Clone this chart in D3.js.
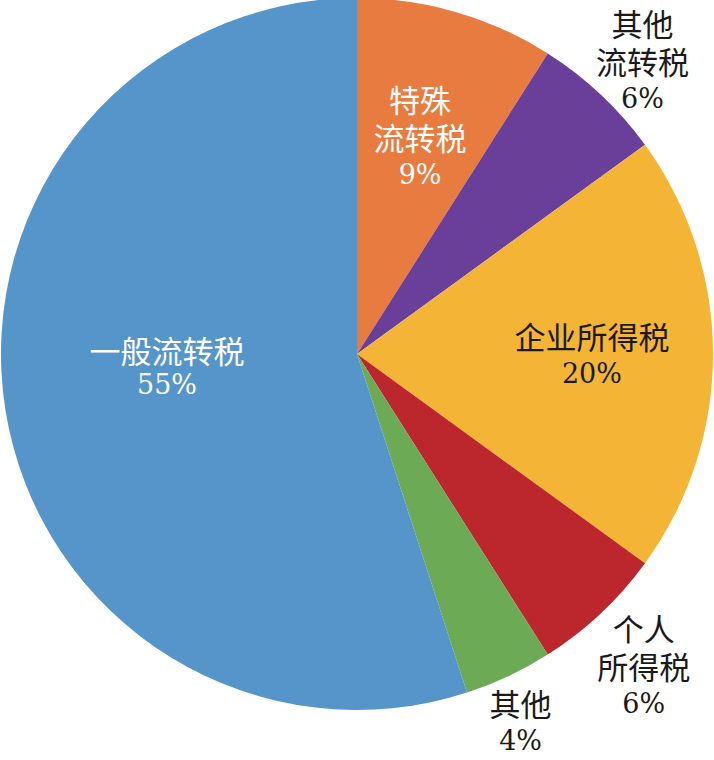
<!DOCTYPE html>
<html>
<head>
<meta charset="utf-8">
<script src="https://cdn.jsdelivr.net/npm/d3@7/dist/d3.min.js"></script>
<style>
  html, body { margin: 0; padding: 0; background: #fff; }
  svg { display: block; }
  .pct { font-family: "DejaVu Serif", serif; font-size: 27px; }
  .cjk { font-family: "Noto Sans CJK SC", sans-serif; font-size: 31px; }
</style>
</head>
<body>
<div id="chart"></div>
<script>
// slice names, one line per array entry (clockwise from 12 o'clock)
const categories = [
  ["特殊", "流转税"],
  ["其他", "流转税"],
  ["企业所得税"],
  ["个人", "所得税"],
  ["其他"],
  ["一般流转税"]
];
// shares in percent
const values = [9, 6, 20, 6, 4, 55];
const colors = ["#e87b3f", "#6a3f99", "#f4b436", "#bb272d", "#6daa55", "#5595ca"];
const textColors = ["#fff", "#1a1a1a", "#1a1a1a", "#1a1a1a", "#1a1a1a", "#fff"];

// label placement: radius as fraction of pie radius, plus angle nudge in degrees
const labelK = [0.635, 1.15, 0.66, 1.19, 1.13, 0.535];
const labelNudge = [0, 1, 0, 0.6, 1.2, 5];

const width = 714, height = 760;
const cx = 357, cy = 354, radius = 356;
const lineGap = 38;

const svg = d3.select("#chart")
  .append("svg")
  .attr("width", width)
  .attr("height", height);

const g = svg.append("g").attr("transform", "translate(" + cx + "," + cy + ")");

const rows = values.map((v, i) => ({ name: categories[i], value: v, i: i }));

const pie = d3.pie().sort(null).value(d => d.value);
const arc = d3.arc().innerRadius(0).outerRadius(radius);

const arcs = pie(rows);

g.selectAll("path")
  .data(arcs)
  .enter()
  .append("path")
  .attr("d", arc)
  .attr("fill", d => colors[d.data.i]);

// labels: one text per line, CJK in Noto, the percent line in a serif face
arcs.forEach(d => {
  const i = d.data.i;
  const a = (d.startAngle + d.endAngle) / 2 + labelNudge[i] * Math.PI / 180;
  const r = radius * labelK[i];
  const x = r * Math.sin(a);
  const y = -r * Math.cos(a);
  const lines = d.data.name.concat([d.data.value + "%"]);
  const gap = i === 5 ? 35 : lineGap;
  lines.forEach((s, j) => {
    const last = j === lines.length - 1;
    g.append("text")
      .attr("class", last ? "pct" : "cjk")
      .attr("text-anchor", "middle")
      .attr("dominant-baseline", "central")
      .attr("fill", textColors[i])
      .attr("x", x)
      .attr("y", y + (j - (lines.length - 1) / 2) * gap)
      .text(s);
  });
});
</script>
</body>
</html>
